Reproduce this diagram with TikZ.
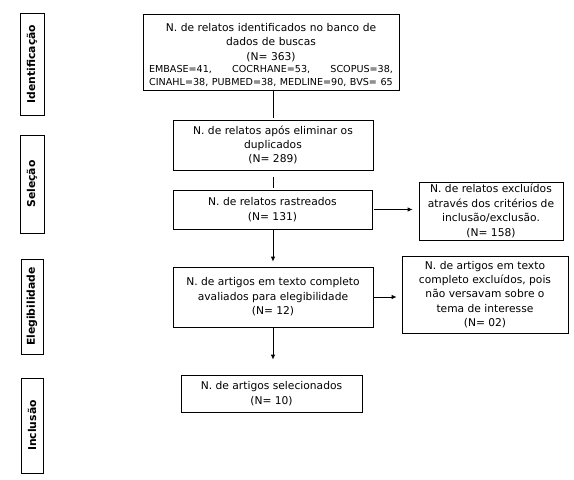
\documentclass[tikz,border=0pt]{standalone}
\usepackage{fontspec}
\setmainfont{DejaVu Sans}
\usetikzlibrary{arrows.meta,calc}
\begin{document}
\begin{tikzpicture}[x=1pt,y=-1pt,
  box/.style={draw,line width=0.8pt,inner sep=0pt,align=center,font=\fontsize{10.7}{14.4}\selectfont},
  side/.style={draw,line width=0.8pt,inner sep=0pt,rotate=90,font=\bfseries\fontsize{10.8}{12}\selectfont},
  conn/.style={line width=0.8pt},
  arr/.style={line width=0.8pt,-{Latex[length=5pt,width=4.5pt]}}]
\useasboundingbox (0,0) rectangle (574,480);
% side labels
\node[side,minimum width=102pt,minimum height=24pt] (s1) at (32,64) {Identificação};
\node[side,minimum width=98pt,minimum height=24pt] (s2) at (32,184) {Seleção};
\node[side,minimum width=95pt,minimum height=22pt] (s3) at (32,306.5) {Elegibilidade};
\node[side,minimum width=95pt,minimum height=22pt] (s4) at (32,425.5) {Inclusão};
% main boxes
\node[box,minimum width=256pt,minimum height=76pt,text width=252pt] (b1) at (271,52)
 {\rule{0pt}{14pt}N. de relatos identificados no banco de\\ dados de buscas\\ (N= 363)\par
  {\fontsize{9.6}{12.8}\selectfont\makebox[244pt][s]{EMBASE=41,\hfill COCRHANE=53,\hfill SCOPUS=38,}\\
  CINAHL=38, PUBMED=38, MEDLINE=90, BVS= 65\par}};
\node[box,minimum width=200pt,minimum height=50pt] (b2) at (273,145)
 {N. de relatos após eliminar os\\ duplicados\\ (N= 289)};
\node[box,minimum width=199pt,minimum height=39pt] (b3) at (272.5,209.5)
 {N. de relatos rastreados\\ (N= 131)};
\node[box,minimum width=144pt,minimum height=58pt] (b4) at (491,211)
 {N. de relatos excluídos\\ através dos critérios de\\ inclusão/exclusão.\\ (N= 158)};
\node[box,minimum width=200pt,minimum height=60pt] (b5) at (273,297)
 {N. de artigos em texto completo\\ avaliados para elegibilidade\\ (N= 12)};
\node[box,minimum width=166pt,minimum height=77pt] (b6) at (485,294.5)
 {N. de artigos em texto\\ completo excluídos, pois\\ não versavam sobre o\\ tema de interesse\\ (N= 02)};
\node[box,minimum width=181pt,minimum height=37pt] (b7) at (271.5,393.5)
 {N. de artigos selecionados\\ (N= 10)};
% connectors
\draw[conn,shorten >=2pt] (b2.north |- b1.south) -- (b2.north);
\draw[conn,shorten <=7pt,shorten >=2pt] (b2.south) -- (b3.north -| b2.south);
\draw[arr,shorten >=5pt] (b3.south -| b2.south) -- (b5.north);
\draw[arr,shorten >=15pt] (b5.south) -- (b7.north -| b5.south);
\draw[arr,shorten <=2pt,shorten >=6pt] (b3.east) -- (b4.west |- b3.east);
\draw[arr,shorten >=5pt] (b5.east) -- (b6.west |- b5.east);
\end{tikzpicture}
\end{document}
